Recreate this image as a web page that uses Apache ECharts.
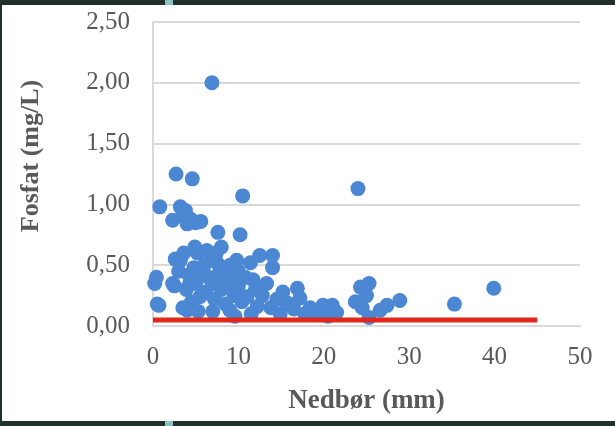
<!DOCTYPE html>
<html>
<head>
<meta charset="utf-8">
<script src="https://cdn.jsdelivr.net/npm/echarts@6/dist/echarts.min.js"></script>
<style>
  html, body { margin: 0; padding: 0; background: #fff; }
  #chart { width: 615px; height: 426px; }
</style>
</head>
<body>
<div id="chart"></div>
<script>
// Precipitation (mm) per sample
const nedbor = [
  0.2, 0.4, 0.5, 0.7, 0.8,
  2.3, 2.7, 3.2, 2.3, 2.6, 3.0, 2.5,
  3.5, 4.0, 3.8, 4.6, 4.4, 5.0, 5.6, 3.2, 3.6, 4.0, 3.9, 4.2, 4.5, 4.9, 4.8, 5.0, 5.5, 5.2, 5.3, 3.5, 4.3, 5.8,
  6.3, 6.0, 6.5, 6.2, 6.8, 6.9, 7.0, 7.2, 7.5, 7.6, 7.0, 7.8, 8.0, 8.2, 7.4, 8.5, 8.0,
  8.7, 9.0, 9.0, 9.5, 9.8, 9.2, 10.0, 10.2, 10.5, 10.0, 10.4, 9.6,
  10.8, 11.0, 11.4, 11.7, 12.2, 12.5, 12.0, 11.5, 12.8, 13.3,
  14.0, 14.0, 14.5, 14.9, 15.2, 15.7, 13.8,
  16.9, 17.2, 16.5, 18.4, 19.0, 19.9, 21.0, 21.5, 20.5, 17.8,
  23.7, 24.0, 24.3, 25.3, 24.5, 25.3, 26.6, 27.4, 28.9, 25.0,
  35.3, 39.9
];
// Phosphate (mg/L) per sample
const fosfat = [
  0.35, 0.40, 0.18, 0.17, 0.98,
  0.87, 1.25, 0.98, 0.35, 0.55, 0.45, 0.33,
  0.90, 0.84, 0.95, 1.21, 0.88, 0.85, 0.86, 0.54, 0.60, 0.13, 0.30, 0.42, 0.20, 0.65, 0.48, 0.35, 0.24, 0.60, 0.12, 0.15, 0.35, 0.42,
  0.62, 0.50, 0.40, 0.28, 0.55, 2.00, 0.35, 0.22, 0.52, 0.77, 0.12, 0.45, 0.30, 0.40, 0.60, 0.18, 0.65,
  0.35, 0.13, 0.50, 0.25, 0.54, 0.42, 0.33, 0.75, 1.07, 0.45, 0.20, 0.08,
  0.40, 0.24, 0.52, 0.38, 0.16, 0.58, 0.30, 0.10, 0.25, 0.35,
  0.58, 0.48, 0.22, 0.10, 0.28, 0.19, 0.15,
  0.31, 0.23, 0.14, 0.15, 0.10, 0.17, 0.17, 0.11, 0.08, 0.10,
  0.20, 1.13, 0.32, 0.35, 0.15, 0.07, 0.13, 0.17, 0.21, 0.25,
  0.18, 0.31
];
// Limit line (mg/L) across the precipitation range
const grenseX = [0, 45];
const grenseY = [0.05, 0.05];

const yTicks = { min: 0, max: 2.5, interval: 0.5 };
const xTicks = { min: 0, max: 50, interval: 10 };

const points = nedbor.map((x, i) => [x, fosfat[i]]);
const limit = grenseX.map((x, i) => [x, grenseY[i]]);

const chart = echarts.init(document.getElementById('chart'));
const serif = '"Liberation Serif", "Times New Roman", serif';
chart.setOption({
  animation: false,
  backgroundColor: '#ffffff',
  grid: { left: 153, right: 35, top: 22, bottom: 100 },
  xAxis: {
    type: 'value',
    min: xTicks.min, max: xTicks.max, interval: xTicks.interval,
    name: 'Nedbør (mm)',
    nameLocation: 'middle',
    nameGap: 62,
    nameTextStyle: { fontFamily: serif, fontSize: 27, fontWeight: 'bold', color: '#595959' },
    axisLine: { show: true, lineStyle: { color: '#d9d9d9', width: 2 } },
    axisTick: { show: false },
    splitLine: { show: false },
    axisLabel: { fontFamily: serif, fontSize: 25, color: '#595959', margin: 19 }
  },
  yAxis: {
    type: 'value',
    min: yTicks.min, max: yTicks.max, interval: yTicks.interval,
    axisLine: { show: true, lineStyle: { color: '#d9d9d9', width: 2 } },
    axisTick: { show: false },
    splitLine: { show: true, lineStyle: { color: '#d9d9d9', width: 2 } },
    axisLabel: {
      fontFamily: serif, fontSize: 25, color: '#595959', margin: 23,
      formatter: v => v.toFixed(2).replace('.', ',')
    }
  },
  series: [
    {
      type: 'scatter',
      data: points,
      symbolSize: 15,
      itemStyle: { color: '#4b87d3', opacity: 1 },
      z: 2
    },
    {
      type: 'line',
      data: limit,
      symbol: 'none',
      lineStyle: { color: '#e1261c', width: 5 },
      z: 3
    }
  ],
  graphic: [
    {
      type: 'text', x: 31, y: 156, rotation: Math.PI / 2,
      style: {
        text: 'Fosfat (mg/L)', font: 'bold 26px ' + serif, fill: '#595959',
        align: 'center', verticalAlign: 'middle'
      }
    },
    { type: 'rect', shape: { x: 0, y: 0, width: 615, height: 5 }, style: { fill: '#22302b' }, z: 100 },
    { type: 'rect', shape: { x: 0, y: 421, width: 615, height: 5 }, style: { fill: '#22302b' }, z: 100 },
    { type: 'rect', shape: { x: 0, y: 0, width: 2, height: 426 }, style: { fill: '#22302b' }, z: 100 },
    { type: 'rect', shape: { x: 165, y: 0, width: 8, height: 5 }, style: { fill: '#8cbfc3' }, z: 101 },
    { type: 'rect', shape: { x: 165, y: 421, width: 8, height: 5 }, style: { fill: '#8cbfc3' }, z: 101 }
  ]
});
</script>
</body>
</html>
